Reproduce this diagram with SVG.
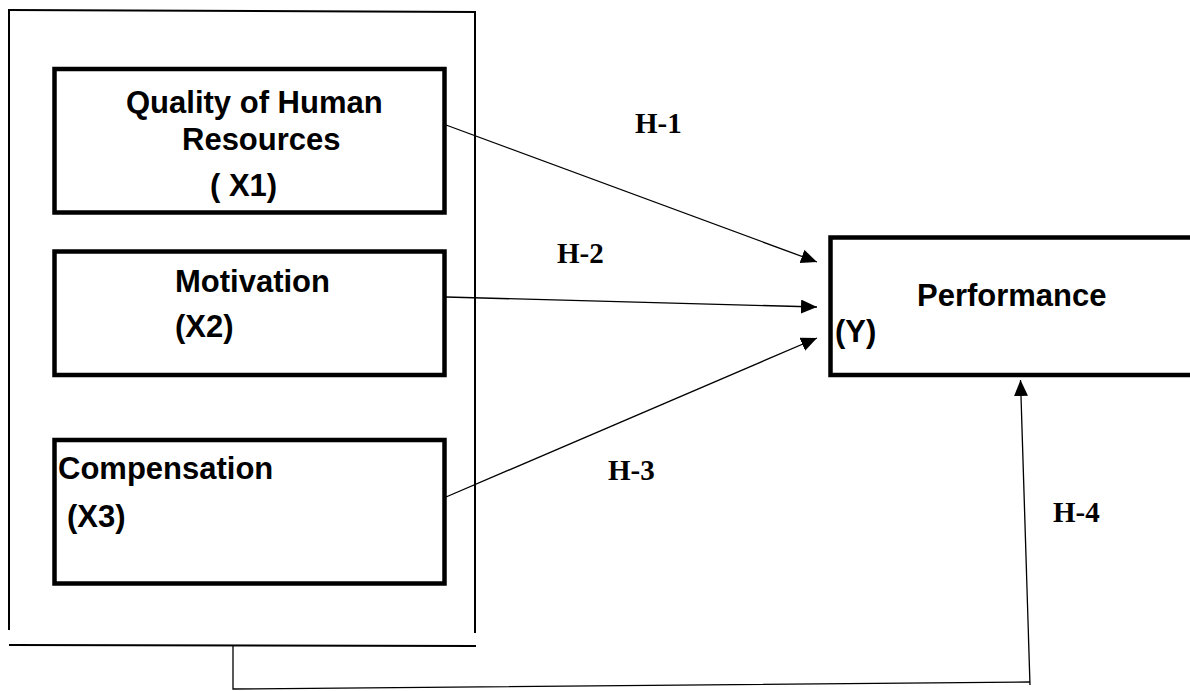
<svg xmlns="http://www.w3.org/2000/svg" width="1190" height="691" viewBox="0 0 1190 691">
<style>
.box{fill:#fff;stroke:#000;stroke-width:4.5}
.frame{fill:none;stroke:#000;stroke-width:2}
.lbl{font-family:"Liberation Sans",Arial,sans-serif;font-weight:bold;font-size:31px;fill:#000}
.h{font-family:"Liberation Serif","Times New Roman",serif;font-weight:bold;font-size:29px;fill:#000}
.con{fill:none;stroke:#000;stroke-width:1.3}
</style>
<defs>
<marker id="arr" markerUnits="userSpaceOnUse" markerWidth="17" markerHeight="15" refX="16" refY="7" orient="auto" viewBox="0 0 17 15">
<path d="M0,0 L16,7 L0,14 z" fill="#000"/>
</marker>
</defs>
<rect width="1190" height="691" fill="#fff"/>
<g id="frame">
<line class="frame" x1="8" y1="10" x2="476" y2="12"/>
<line class="frame" x1="9" y1="10" x2="9" y2="630"/>
<line class="frame" x1="475" y1="11" x2="475" y2="633"/>
<line class="frame" x1="9" y1="645" x2="476" y2="646" stroke-width="2.5"/>
</g>
<g id="connectors">
<line class="con" x1="446" y1="125" x2="817" y2="262" marker-end="url(#arr)"/>
<line class="con" x1="446" y1="297" x2="817" y2="307" marker-end="url(#arr)"/>
<line class="con" x1="446" y1="497" x2="817" y2="338" marker-end="url(#arr)"/>
<polyline class="con" points="233,645 233,689 1030,682" stroke-width="2"/>
<line class="con" x1="1030" y1="685" x2="1020.5" y2="380" marker-end="url(#arr)"/>
<text class="h" x="635" y="133">H-1</text>
<text class="h" x="557" y="263">H-2</text>
<text class="h" x="608" y="480">H-3</text>
<text class="h" x="1053" y="522">H-4</text>
</g>
<g id="x1">
<rect class="box" x="54.5" y="69" width="390" height="143.5"/>
<text class="lbl" x="126" y="113">Quality of Human</text>
<text class="lbl" x="182" y="150">Resources</text>
<text class="lbl" x="210" y="196">( X1)</text>
</g>
<g id="x2">
<rect class="box" x="54.5" y="251.5" width="390" height="123.5"/>
<text class="lbl" x="175" y="292">Motivation</text>
<text class="lbl" x="175" y="337">(X2)</text>
</g>
<g id="x3">
<rect class="box" x="54.5" y="440" width="390" height="143.5"/>
<text class="lbl" x="58" y="479">Compensation</text>
<text class="lbl" x="67" y="527">(X3)</text>
</g>
<g id="y">
<rect class="box" x="830.5" y="237.5" width="420" height="137.5"/>
<text class="lbl" x="917" y="306">Performance</text>
<text class="lbl" x="835" y="342">(Y)</text>
</g>
</svg>
